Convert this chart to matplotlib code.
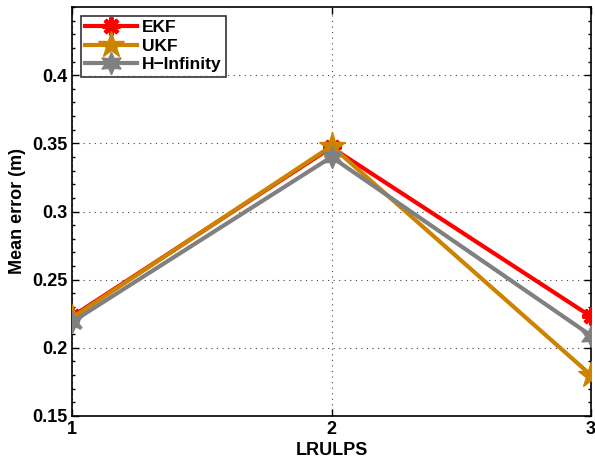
import matplotlib
matplotlib.use("Agg")
import matplotlib.pyplot as plt
from matplotlib.ticker import MultipleLocator

plt.rcParams['font.family'] = ['Liberation Sans', 'DejaVu Sans']
plt.rcParams['font.weight'] = 'bold'

x = [1, 2, 3]
ekf = [0.223, 0.347, 0.223]
ukf = [0.222, 0.348, 0.180]
hinf = [0.219, 0.340, 0.209]

fig = plt.figure(figsize=(5.95, 4.59), dpi=100)
ax = fig.add_axes([72 / 595, 43 / 459, 519 / 595, 409 / 459])

ax.plot(x, ekf, color='#ff0000', lw=3, marker=(8, 2, 0), ms=13, mew=3, label='EKF', zorder=3)
ax.plot(x, ukf, color='#cc8400', lw=3, marker='*', ms=20, label='UKF', zorder=4)
ax.plot(x, hinf, color='#808080', lw=3, marker=(6, 1, 0), ms=16, label='H\u2212Infinity', zorder=5)

ax.set_xlim(1, 3)
ax.set_ylim(0.15, 0.45)
ax.set_xticks([1, 2, 3])
ax.set_yticks([0.15, 0.2, 0.25, 0.3, 0.35, 0.4])
ax.set_yticklabels(['0.15', '0.2', '0.25', '0.3', '0.35', '0.4'])
ax.yaxis.set_minor_locator(MultipleLocator(0.01))
ax.tick_params(which='both', direction='in', top=True, right=True, labelsize=13, width=1)
ax.tick_params(which='major', length=5)
ax.tick_params(which='minor', length=2.5)
ax.grid(True, which='major', linestyle=(0, (1, 4)), color='#444444', lw=0.8)
for s in ax.spines.values():
    s.set_linewidth(1.2)

ax.set_xlabel('LRULPS', fontsize=13, fontweight='bold', labelpad=3)
ax.set_ylabel('Mean error (m)', fontsize=13, fontweight='bold', labelpad=4)

leg = ax.legend(loc='upper left', fontsize=12.5, frameon=True, fancybox=False,
                edgecolor='black', borderaxespad=0.5, handlelength=3.0,
                handletextpad=0.3, labelspacing=0.2, borderpad=0.25)
leg.get_frame().set_linewidth(1.2)

fig.savefig('out.png', dpi=100)
